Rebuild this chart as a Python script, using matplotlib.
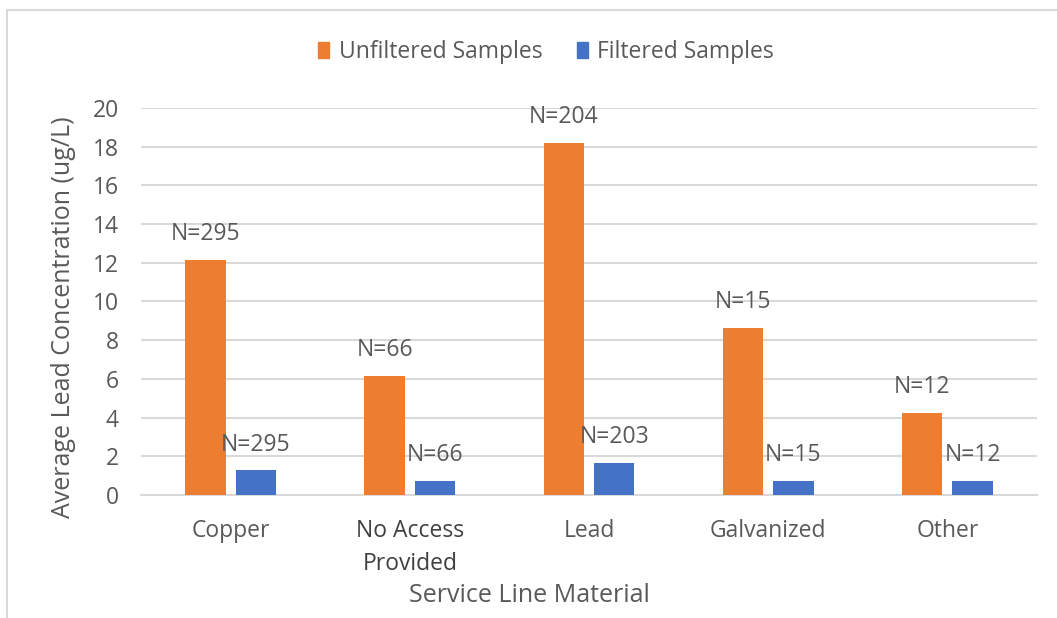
import matplotlib
matplotlib.use("Agg")
import matplotlib.pyplot as plt
from matplotlib.patches import Rectangle, Patch
import numpy as np

plt.rcParams['font.family'] = ['Open Sans', 'DejaVu Sans']

categories = ["Copper", "No Access\nProvided", "Lead", "Galvanized", "Other"]
unfiltered = [12.17, 6.15, 18.19, 8.64, 4.22]
filtered = [1.27, 0.74, 1.67, 0.74, 0.74]
n_unfiltered = ["N=295", "N=66", "N=204", "N=15", "N=12"]
n_filtered = ["N=295", "N=66", "N=203", "N=15", "N=12"]
y_ticks = [0, 2, 4, 6, 8, 10, 12, 14, 16, 18, 20]

ORANGE = "#ED7D31"
BLUE = "#4472C4"
TEXT = "#595959"
GRID = "#D9D9D9"

W, H = 1057, 618
fig = plt.figure(figsize=(W / 100, H / 100), dpi=100)
fig.patch.set_facecolor("white")

# chart-area border (left and top edges visible)
fig.add_artist(Rectangle((7 / W, -0.05), 1.2, 1 - 10 / H + 0.05,
                         transform=fig.transFigure, fill=False,
                         edgecolor="#D9D9D9", linewidth=1.5))

ax = fig.add_axes([141 / W, 1 - 495 / H, (1037 - 141) / W, (495 - 108) / H])
x = np.arange(len(categories))
bw = 0.225
gap = 0.056
off = (bw + gap) / 2

b1 = ax.bar(x - off, unfiltered, bw, color=ORANGE, zorder=3)
b2 = ax.bar(x + off, filtered, bw, color=BLUE, zorder=3)

for bars, labels in ((b1, n_unfiltered), (b2, n_filtered)):
    for rect, lab in zip(bars, labels):
        ax.annotate(lab, (rect.get_x() + rect.get_width() / 2, rect.get_height()),
                    xytext=(0, 10), textcoords="offset points", ha="center",
                    va="bottom", fontsize=16.5, color=TEXT)

ax.set_xlim(-0.5, len(categories) - 0.5)
ax.set_ylim(0, 20)
ax.set_yticks(y_ticks)
ax.set_xticks(x)
ax.set_xticklabels(categories, linespacing=1.5)
ax.tick_params(axis="both", length=0, labelsize=16.5, labelcolor=TEXT)
ax.tick_params(axis="y", pad=16)
ax.tick_params(axis="x", pad=17)
ax.get_xticklabels()[1].set_color("#404040")
ax.yaxis.grid(True, color=GRID, linewidth=1.5, zorder=0)
for s in ["top", "right", "left"]:
    ax.spines[s].set_visible(False)
ax.spines["bottom"].set_color(GRID)
ax.spines["bottom"].set_linewidth(1.5)
ax.spines["bottom"].set_zorder(1)

ax.set_xlabel("Service Line Material", fontsize=18, color=TEXT)
ax.xaxis.set_label_coords((529 - 141) / 896, -(596 - 495) / 387, transform=ax.transAxes)
ax.xaxis.label.set_va("center")
ax.set_ylabel("Average Lead Concentration (ug/L)", fontsize=18, color=TEXT)
ax.yaxis.set_label_coords((64 - 141) / 896, (495 - 317) / 387, transform=ax.transAxes)
ax.yaxis.label.set_va("center")

handles = [Patch(color=ORANGE, label="Unfiltered Samples"),
           Patch(color=BLUE, label="Filtered Samples")]
leg = fig.legend(handles=handles, loc="center", bbox_to_anchor=(546 / W, 1 - 52 / H),
                 ncol=2, frameon=False, fontsize=16.5, handlelength=0.5,
                 handleheight=0.75, handletextpad=0.4, columnspacing=1.5)
for t in leg.get_texts():
    t.set_color(TEXT)

fig.savefig("out.png", dpi=100, facecolor="white")
